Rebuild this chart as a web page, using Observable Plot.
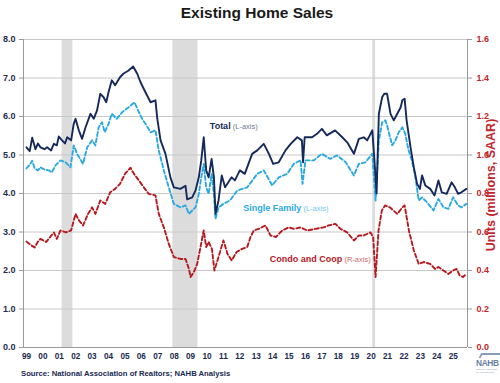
<!DOCTYPE html>
<html>
<head>
<meta charset="utf-8">
<script src="https://cdn.jsdelivr.net/npm/d3@7"></script>
<script src="https://cdn.jsdelivr.net/npm/@observablehq/plot@0.6"></script>
<style>
  body { margin: 0; background: #fff; font-family: "Liberation Sans", Arial, sans-serif; }
  #wrap { position: relative; width: 500px; height: 383px; overflow: hidden; background: #fff; }
  #title { position: absolute; left: 0; top: 4px; width: 514px; text-align: center; font-weight: bold; font-size: 15.5px; color: #1a1a1a; z-index: 2; }
  #chart { position: absolute; left: 0; top: 0; }
  #source { position: absolute; left: 21px; top: 369px; font-size: 7.7px; font-weight: bold; color: #1a2a50; white-space: nowrap; }
  #rtitle { position: absolute; left: 491px; top: 185px; transform: translate(-50%, -50%) rotate(-90deg); font-size: 12.5px; font-weight: bold; color: #c0272d; white-space: nowrap; }
  #logo { position: absolute; left: 476px; top: 353px; width: 24px; }
  #logo .roof { width: 18px; height: 3px; border-top: 2px solid #8a9bb8; border-left: 2px solid #8a9bb8; transform: skewX(-30deg); margin-left: 4px; }
  #logo .t { font-size: 8.4px; font-weight: bold; color: #6c7fa6; letter-spacing: -0.4px; line-height: 10px; white-space: nowrap; }
  #logo .s { font-size: 2.4px; color: #8a9bb8; line-height: 3px; width: 24px; }
</style>
</head>
<body>
<div id="wrap">
  <div id="title">Existing Home Sales</div>
  <div id="chart"></div>
  <div id="rtitle">Units (millions, SAAR)</div>
  <div id="source">Source: National Association of Realtors; NAHB Analysis</div>
  <div id="logo"><div class="roof"></div><div class="t">NAHB</div><div class="s">National Association of Home Builders</div></div>
</div>
<script>
// ---- Data ----
const totalYears = [1999.0,1999.2,1999.35,1999.55,1999.7,1999.85,2000.1,2000.26,2000.5,2000.67,2000.85,2000.97,2001.17,2001.35,2001.48,2001.72,2001.88,2001.99,2002.19,2002.39,2002.6,2002.9,2003.1,2003.3,2003.5,2003.7,2003.86,2004.0,2004.2,2004.4,2004.7,2004.9,2005.2,2005.5,2005.75,2005.95,2006.25,2006.56,2006.86,2006.96,2007.17,2007.47,2007.77,2007.98,2008.38,2008.69,2008.79,2009.1,2009.3,2009.5,2009.65,2009.8,2009.95,2010.1,2010.28,2010.42,2010.52,2010.7,2010.9,2011.1,2011.5,2011.7,2012.0,2012.3,2012.75,2013.06,2013.46,2013.77,2014.03,2014.37,2014.78,2015.1,2015.5,2015.78,2015.85,2015.95,2016.4,2016.7,2017.0,2017.3,2017.8,2018.24,2018.54,2018.95,2019.25,2019.55,2019.76,2020.07,2020.2,2020.33,2020.47,2020.67,2020.8,2020.97,2021.18,2021.38,2021.59,2021.8,2021.9,2022.04,2022.16,2022.4,2022.6,2022.8,2022.97,2023.1,2023.3,2023.6,2023.86,2024.1,2024.3,2024.6,2024.9,2025.1,2025.3,2025.5,2025.8];
const totalValues = [5.2,5.1,5.45,5.15,5.3,5.2,5.15,5.2,5.12,5.29,5.25,5.48,5.38,5.3,5.46,5.38,5.81,5.94,5.64,5.42,5.72,6.07,5.94,6.16,6.59,6.5,6.37,6.63,6.94,6.81,7.02,7.11,7.19,7.3,7.11,6.89,6.63,6.37,6.42,5.98,5.38,5.03,4.42,4.16,4.12,4.2,3.85,3.9,4.08,4.42,4.86,5.46,4.6,4.42,4.9,4.42,3.47,3.82,4.47,4.16,4.42,4.34,4.6,4.51,5.03,5.12,5.29,5.03,4.77,4.81,5.12,5.29,5.46,5.38,4.81,5.46,5.46,5.55,5.68,5.51,5.64,5.46,5.33,5.03,5.42,5.46,5.38,5.64,4.86,4.0,6.07,6.5,6.59,6.59,6.07,5.9,6.07,6.24,6.42,6.46,5.9,5.2,4.68,4.25,4.12,4.47,4.21,4.12,3.95,4.34,4.03,3.99,4.29,4.16,3.99,4.03,4.12];

const sfYears = [1999.0,1999.2,1999.35,1999.5,1999.7,1999.85,2000.1,2000.36,2000.55,2000.77,2001.07,2001.38,2001.68,2001.88,2002.09,2002.45,2002.7,2003.0,2003.2,2003.4,2003.6,2003.77,2004.0,2004.2,2004.5,2004.83,2005.23,2005.58,2005.8,2006.05,2006.31,2006.56,2006.86,2007.06,2007.37,2007.67,2007.98,2008.38,2008.69,2008.9,2009.1,2009.3,2009.5,2009.65,2009.8,2009.95,2010.1,2010.28,2010.42,2010.52,2010.7,2011.0,2011.4,2011.84,2012.45,2013.06,2013.46,2013.97,2014.37,2014.88,2015.29,2015.7,2015.82,2016.0,2016.5,2017.0,2017.5,2017.93,2018.45,2018.95,2019.25,2019.65,2020.07,2020.27,2020.47,2020.67,2020.87,2021.0,2021.28,2021.48,2021.68,2021.9,2022.08,2022.28,2022.48,2022.68,2022.9,2023.1,2023.4,2023.8,2024.1,2024.4,2024.7,2025.0,2025.3,2025.5,2025.8];
const sfValues = [4.65,4.75,4.85,4.65,4.6,4.68,4.62,4.6,4.55,4.73,4.86,4.81,4.68,5.25,5.03,4.77,5.2,5.38,5.25,5.72,5.85,5.59,5.81,6.07,5.94,6.11,6.24,6.37,6.16,5.94,5.77,5.59,5.64,5.12,4.6,4.16,3.73,3.64,3.69,3.47,3.56,3.64,3.99,4.42,4.77,4.16,3.99,4.51,3.99,3.34,3.64,3.73,3.82,4.08,4.16,4.51,4.6,4.21,4.42,4.51,4.77,4.86,4.25,4.86,4.86,5.03,4.9,4.99,4.81,4.47,4.77,4.81,5.03,3.82,5.38,5.85,5.9,5.72,5.25,5.38,5.59,5.72,5.55,5.12,4.86,4.47,3.82,3.9,3.77,3.56,3.86,3.64,3.6,3.9,3.69,3.64,3.73];

// Condo and Coop, right axis units (millions)
const condoYears = [1999.0,1999.3,1999.5,1999.7,1999.85,2000.2,2000.67,2000.85,2001.07,2001.4,2001.72,2001.99,2002.2,2002.45,2002.75,2003.0,2003.2,2003.5,2003.8,2004.1,2004.4,2004.7,2005.0,2005.34,2005.55,2005.85,2006.15,2006.45,2006.86,2007.06,2007.37,2007.67,2007.98,2008.38,2008.69,2008.9,2009.0,2009.2,2009.4,2009.6,2009.8,2009.95,2010.1,2010.3,2010.45,2010.7,2011.0,2011.25,2011.5,2011.8,2012.14,2012.45,2012.65,2012.85,2013.15,2013.56,2013.87,2014.2,2014.58,2014.98,2015.29,2015.7,2016.1,2016.6,2017.1,2017.4,2017.83,2018.13,2018.54,2018.95,2019.25,2019.55,2019.96,2020.12,2020.27,2020.45,2020.65,2020.85,2021.15,2021.35,2021.6,2021.9,2022.04,2022.3,2022.6,2022.9,2023.2,2023.6,2023.9,2024.1,2024.4,2024.7,2025.0,2025.2,2025.4,2025.6,2025.8];
const condoValues = [0.55,0.53,0.52,0.55,0.564,0.548,0.598,0.564,0.608,0.598,0.608,0.694,0.66,0.634,0.694,0.728,0.694,0.764,0.746,0.806,0.824,0.85,0.902,0.934,0.902,0.868,0.832,0.798,0.79,0.694,0.624,0.538,0.47,0.46,0.46,0.408,0.366,0.392,0.434,0.52,0.608,0.522,0.548,0.512,0.4,0.47,0.556,0.486,0.452,0.496,0.512,0.522,0.574,0.608,0.616,0.634,0.582,0.574,0.608,0.624,0.616,0.624,0.608,0.616,0.624,0.634,0.642,0.616,0.598,0.556,0.582,0.582,0.598,0.574,0.366,0.608,0.712,0.738,0.728,0.712,0.694,0.728,0.738,0.608,0.504,0.434,0.444,0.434,0.408,0.418,0.4,0.382,0.4,0.408,0.374,0.366,0.382];

const recessionStart = [2001.17, 2007.92, 2020.1];
const recessionEnd   = [2001.83, 2009.45, 2020.27];

const yearTicks = d3.range(1999, 2026);
const leftTicks = [0, 1, 2, 3, 4, 5, 6, 7, 8];
const rightRatio = 5; // left-axis units per right-axis unit

const labelNames  = ["Total", "Single Family", "Condo and Coop"];
const labelSuffix = [" (L-axis)", " (L-axis)", " (R-axis)"];
const labelYears  = [2010.17, 2012.21, 2013.83];
const labelValues = [5.74, 3.62, 2.29];
const labelColors = ["#15295b", "#2aa9e0", "#b5191f"];
const suffixColors = ["#6d7a90", "#6fc3ea", "#c66a6a"];

// ---- Build tables ----
const total = totalYears.map((y, i) => ({year: y, value: totalValues[i]}));
const sf = sfYears.map((y, i) => ({year: y, value: sfValues[i]}));
const condo = condoYears.map((y, i) => ({year: y, value: condoValues[i] * rightRatio}));
const recessions = recessionStart.map((s, i) => ({start: s, end: recessionEnd[i]}));
const labels = labelNames.map((n, i) => ({name: n, year: labelYears[i], value: labelValues[i], color: labelColors[i]}));

const xDomain = [1998.82, 2025.87];

const chart = Plot.plot({
  width: 500,
  height: 383,
  marginTop: 39,
  marginBottom: 36,
  marginLeft: 23,
  marginRight: 33,
  x: {domain: xDomain},
  y: {domain: [0, 8]},
  style: {fontFamily: "'Liberation Sans', Arial, sans-serif", background: "transparent", overflow: "visible"},
  marks: [
    Plot.rect(recessions, {x1: "start", x2: "end", y1: 0, y2: 8, fill: "#dcdcdc"}),
    Plot.gridY(leftTicks, {stroke: "#c8c8c8", strokeOpacity: 1, strokeWidth: 1}),
    Plot.ruleY([0], {stroke: "#9a9a9a"}),
    Plot.ruleX(xDomain, {stroke: "#9a9a9a"}),
    Plot.axisY(leftTicks, {anchor: "left", label: null, tickSize: 4, tickPadding: 4, tickFormat: d => d.toFixed(1), fontSize: 9, fontWeight: "bold", fill: "#1f2d50", stroke: "#9a9a9a"}),
    Plot.axisY(leftTicks, {anchor: "right", label: null, tickSize: 4, tickPadding: 5, tickFormat: d => (d / rightRatio).toFixed(1), fontSize: 9, fontWeight: "bold", fill: "#c0272d", stroke: "#9a9a9a"}),
    Plot.axisX(yearTicks, {anchor: "bottom", label: null, tickSize: 0, tickPadding: 6, tickFormat: d => String(d % 100).padStart(2, "0"), fontSize: 8.2, fontWeight: "bold", fill: "#1a2a50"}),
    Plot.line(condo, {x: "year", y: "value", stroke: "#b5191f", strokeWidth: 1.9, strokeDasharray: "4,2.5"}),
    Plot.line(sf, {x: "year", y: "value", stroke: "#2aa9e0", strokeWidth: 1.9, strokeDasharray: "4,2.5"}),
    Plot.line(total, {x: "year", y: "value", stroke: "#15295b", strokeWidth: 1.9}),
    Plot.text(labels, {x: "year", y: "value", text: "name", fill: "color", textAnchor: "start", fontSize: 9, fontWeight: "bold", className: "series-label"})
  ]
});

document.getElementById("chart").appendChild(chart);

// append the axis note in a lighter, smaller face
d3.select(chart).selectAll(".series-label text").each(function(d, i) {
  d3.select(this).append("tspan")
    .attr("font-weight", "normal")
    .attr("font-size", 7.5)
    .attr("fill", suffixColors[i])
    .text(labelSuffix[i]);
});
</script>
</body>
</html>
